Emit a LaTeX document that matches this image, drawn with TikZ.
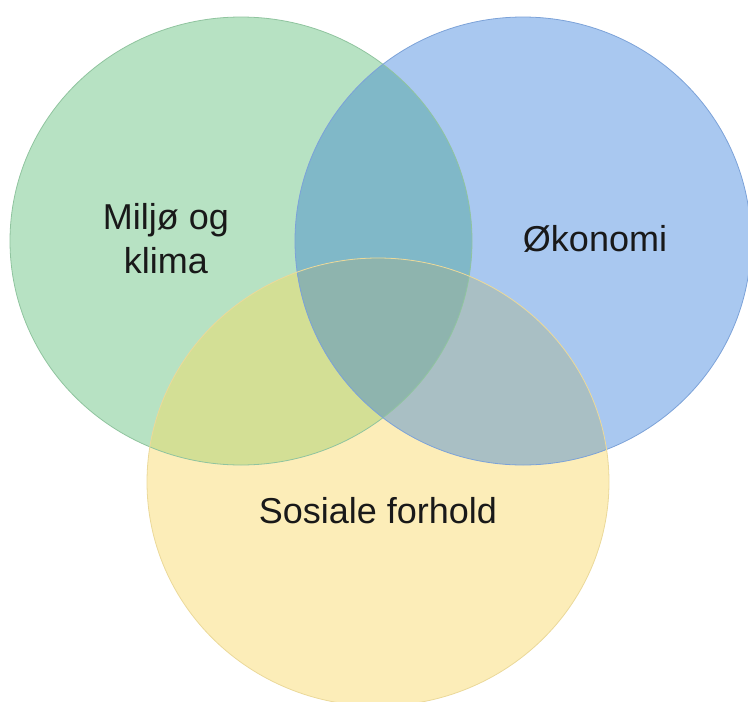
\documentclass[tikz,border=0pt]{standalone}
\usepackage{fontspec}
\setmainfont{Liberation Sans}
\definecolor{cg}{HTML}{B7E2C3}
\definecolor{cb}{HTML}{A9C8F0}
\definecolor{cy}{HTML}{FCEDB8}
\definecolor{cgb}{HTML}{80B8C8}
\definecolor{cgy}{HTML}{D3DF95}
\definecolor{cby}{HTML}{A9BFC4}
\definecolor{cgby}{HTML}{8EB4AE}
\definecolor{lg}{HTML}{90C49F}
\definecolor{lb}{HTML}{7CA2D8}
\definecolor{ly}{HTML}{EBD99A}
\begin{document}
\begin{tikzpicture}[x=1pt,y=-1pt,
  lbl/.style={font=\fontsize{36}{44}\selectfont, text=black!90, align=center, inner sep=0pt}]
\def\G{(241,241) ellipse (231pt and 224pt)}
\def\B{(523,241) ellipse (228pt and 224pt)}
\def\Y{(378,482) ellipse (231pt and 224pt)}
\useasboundingbox (0,0) rectangle (748,702);
\clip (0,0) rectangle (748,702);
\fill[cg] \G;
\fill[cb] \B;
\fill[cy] \Y;
\begin{scope}
  \clip \G;
  \fill[cgb] \B;
  \fill[cgy] \Y;
\end{scope}
\begin{scope}
  \clip \B;
  \fill[cby] \Y;
\end{scope}
\begin{scope}
  \clip \G;
  \clip \B;
  \fill[cgby] \Y;
\end{scope}
\draw[lg, line width=0.8pt] \G;
\draw[lb, line width=0.8pt] \B;
\draw[ly, line width=0.8pt] \Y;
\node[lbl] (miljo) at (166,239) {Miljø og\\klima};
\node[lbl] (okonomi) at (595,239) {Økonomi};
\node[lbl] (sosiale) at (378,511) {Sosiale forhold};
\end{tikzpicture}
\end{document}
